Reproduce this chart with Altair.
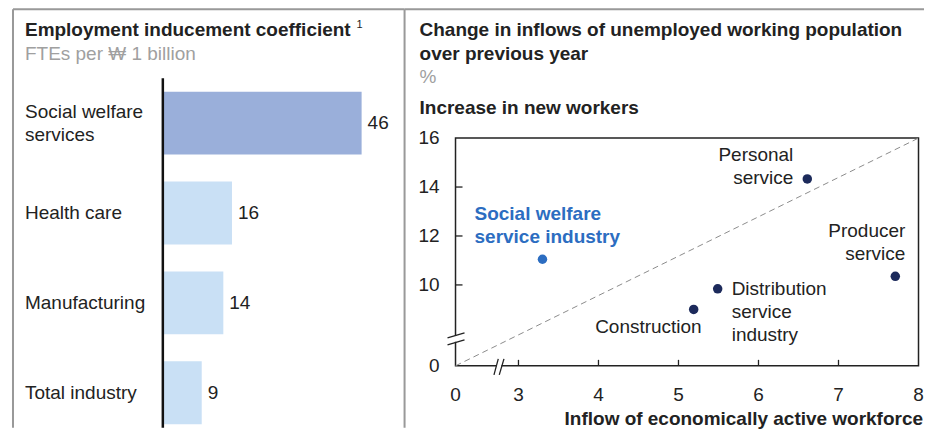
import altair as alt
import pandas as pd

# ---------------- data ----------------
bar_categories = ["Social welfare\nservices", "Health care", "Manufacturing", "Total industry"]
bar_values = [46, 16, 14, 9]
bar_group = ["hi", "lo", "lo", "lo"]

sc_names = ["Social welfare", "Personal", "Producer", "Distribution", "Construction"]
sc_labels = ["Social welfare\nservice industry", "Personal\nservice", "Producer\nservice",
             "Distribution\nservice\nindustry", "Construction"]
sc_x = [3.3, 6.61, 7.71, 5.49, 5.19]
sc_y = [11.05, 14.33, 10.35, 9.84, 9.0]
sc_group = ["sw", "other", "other", "other", "other"]

x_ticklabels = [0, 3, 4, 5, 6, 7, 8]
y_ticklabels = [0, 10, 12, 14, 16]
x_ticks = [3, 4, 5, 6, 7]
y_ticks = [10, 12, 14]
diag_x = [0, 8]
diag_y = [0, 16]
x_break = 2.75   # axis break positions (start of the un-broken scale segment)
y_break = 7.8

# ---------------- style ----------------
FONT = "Liberation Sans"
TXT = "#222222"
GREY = "#a0a0a0"
FRAME = "#999999"
FS = 19
LH = 23
H = 420
LW = 397
RW = 520

one = pd.DataFrame({"k": [0]})

# ---------------- left panel ----------------
bars_df = pd.DataFrame({"cat": bar_categories, "value": bar_values, "grp": bar_group})
ysc = alt.Scale(domain=bar_categories, range=[70, 430], paddingInner=0.3, paddingOuter=0.15)
xsc = alt.Scale(domain=[0, 46], range=[155, 354], nice=False, zero=False)
X = alt.X("value:Q", scale=xsc, axis=None)
Y = alt.Y("cat:N", scale=ysc, axis=None, sort=None)

bars = alt.Chart(bars_df).mark_bar().encode(
    x=X, y=Y,
    color=alt.Color("grp:N", scale=alt.Scale(domain=["hi", "lo"], range=["#9aafda", "#c9e0f5"]), legend=None),
)
bar_vals = alt.Chart(bars_df).mark_text(
    align="left", baseline="middle", dx=6, font=FONT, fontSize=FS, color=TXT
).encode(x=X, y=Y, text="value:Q")


def cat_layer(n):
    return alt.Chart(bars_df).transform_calculate(
        nl="length(split(datum.cat, '\\n'))"
    ).transform_filter(alt.datum.nl == n).mark_text(
        align="left", baseline="middle", lineBreak="\n", lineHeight=LH,
        dy=-(n - 1) * LH / 2, font=FONT, fontSize=FS, color=TXT
    ).encode(x=alt.value(17), y=Y, text="cat:N")


cat1 = cat_layer(1)
cat2 = cat_layer(2)
bar_axis = alt.Chart(one).mark_rule(color="#111111", strokeWidth=2.5).encode(
    x=alt.XDatum(0, scale=xsc, axis=None), y=alt.value(70), y2=alt.value(H)
)
l_title = alt.Chart(one).mark_text(
    text="Employment inducement coefficient", align="left", baseline="alphabetic",
    font=FONT, fontSize=FS, fontWeight="bold", color=TXT
).encode(x=alt.value(17), y=alt.value(28))
l_sup = alt.Chart(one).mark_text(
    text="1", align="left", baseline="alphabetic", font=FONT, fontSize=11, color=TXT
).encode(x=alt.value(349), y=alt.value(20))
l_sub = alt.Chart(one).mark_text(
    text="FTEs per \u20a9 1 billion", align="left", baseline="alphabetic",
    font=FONT, fontSize=FS, color=GREY
).encode(x=alt.value(17), y=alt.value(52))
l_top = alt.Chart(one).mark_rule(color=FRAME, strokeWidth=2).encode(
    x=alt.value(5), x2=alt.value(LW), y=alt.value(1))
l_left = alt.Chart(one).mark_rule(color=FRAME, strokeWidth=2).encode(
    x=alt.value(5), y=alt.value(1), y2=alt.value(H))

left = alt.layer(l_top, l_left, bars, bar_axis, bar_vals, cat1, cat2, l_title, l_sup, l_sub).properties(
    width=LW, height=H)

# ---------------- right panel ----------------
# broken axes: compressed segment below the break, linear above it
xs = alt.Scale(type="linear", domain=[0, x_break, 8], range=[51, 94, 514.5], nice=False, zero=False)
ys = alt.Scale(type="linear", domain=[0, y_break, 16], range=[358, 330.9, 130], nice=False, zero=False)


def XD(v):
    return alt.XDatum(v, scale=xs, axis=None)


def YD(v):
    return alt.YDatum(v, scale=ys, axis=None)


sc_df = pd.DataFrame({"name": sc_names, "label": sc_labels, "x": sc_x, "y": sc_y, "grp": sc_group})
SX = alt.X("x:Q", scale=xs, axis=None)
SY = alt.Y("y:Q", scale=ys, axis=None)

box = alt.Chart(one).mark_rect(fillOpacity=0, stroke="#222222", strokeWidth=1.5).encode(
    x=XD(0), x2=alt.datum(8), y=YD(0), y2=alt.datum(16))

diag_df = pd.DataFrame({"x": diag_x, "y": diag_y})
diag = alt.Chart(diag_df).mark_line(color="#8c8c8c", strokeWidth=1, strokeDash=[6, 4]).encode(
    x=SX, y=SY)

xt_df = pd.DataFrame({"t": x_ticks})
yt_df = pd.DataFrame({"t": y_ticks})
xticks = alt.Chart(xt_df).mark_rule(color="#222222", strokeWidth=1.3, y2Offset=-6).encode(
    x=alt.X("t:Q", scale=xs, axis=None), y=YD(0), y2=alt.datum(0))
yticks = alt.Chart(yt_df).mark_rule(color="#222222", strokeWidth=1.3, x2Offset=7).encode(
    y=alt.Y("t:Q", scale=ys, axis=None), x=XD(0), x2=alt.datum(0))

xl_df = pd.DataFrame({"t": x_ticklabels})
yl_df = pd.DataFrame({"t": y_ticklabels})
xlabels = alt.Chart(xl_df).mark_text(
    align="center", baseline="middle", dy=29, font=FONT, fontSize=FS, color=TXT
).encode(x=alt.X("t:Q", scale=xs, axis=None), y=YD(0), text="t:Q")
ylabels = alt.Chart(yl_df).mark_text(
    align="right", baseline="middle", dx=-16, font=FONT, fontSize=FS, color=TXT
).encode(y=alt.Y("t:Q", scale=ys, axis=None), x=XD(0), text="t:Q")

# axis break symbols
ybrk_white = alt.Chart(one).mark_rule(color="white", strokeWidth=5, yOffset=-3, y2Offset=3).encode(
    x=XD(0), y=YD(y_break), y2=alt.datum(y_break))
ybrk1 = alt.Chart(one).mark_rule(color="#222222", strokeWidth=1.3, xOffset=-8, x2Offset=9,
                                 yOffset=-1, y2Offset=-6).encode(
    x=XD(0), x2=alt.datum(0), y=YD(y_break), y2=alt.datum(y_break))
ybrk2 = alt.Chart(one).mark_rule(color="#222222", strokeWidth=1.3, xOffset=-8, x2Offset=9,
                                 yOffset=6, y2Offset=1).encode(
    x=XD(0), x2=alt.datum(0), y=YD(y_break), y2=alt.datum(y_break))
xbrk_white = alt.Chart(one).mark_rule(color="white", strokeWidth=5, xOffset=-2, x2Offset=3).encode(
    x=XD(x_break), x2=alt.datum(x_break), y=YD(0))
xbrk1 = alt.Chart(one).mark_rule(color="#222222", strokeWidth=1.3, xOffset=-4.5, x2Offset=-0.2,
                                 yOffset=9, y2Offset=-7).encode(
    x=XD(x_break), x2=alt.datum(x_break), y=YD(0), y2=alt.datum(0))
xbrk2 = alt.Chart(one).mark_rule(color="#222222", strokeWidth=1.3, xOffset=0.8, x2Offset=5.5,
                                 yOffset=9, y2Offset=-7).encode(
    x=XD(x_break), x2=alt.datum(x_break), y=YD(0), y2=alt.datum(0))

points = alt.Chart(sc_df).mark_circle(size=90, opacity=1).encode(
    x=SX, y=SY,
    color=alt.Color("grp:N", scale=alt.Scale(domain=["sw", "other"], range=["#2c6dc1", "#1c2a5b"]),
                    legend=None),
)


def plabel(name, **kw):
    props = dict(baseline="middle", lineBreak="\n", lineHeight=LH, font=FONT, fontSize=FS, color=TXT)
    props.update(kw)
    return alt.Chart(sc_df).transform_filter(alt.datum.name == name).mark_text(**props).encode(
        x=SX, y=SY, text="label:N")


lab_sw = plabel("Social welfare", align="left", dx=-68, dy=-45, fontWeight="bold", color="#2c6dc1")
lab_pe = plabel("Personal", align="right", dx=-14, dy=-24)
lab_pr = plabel("Producer", align="right", dx=10, dy=-45)
lab_di = plabel("Distribution", align="left", dx=14, dy=0)
lab_co = plabel("Construction", align="right", dx=8, dy=18)


def rtext(txt, x, y, **kw):
    props = dict(align="left", baseline="alphabetic", font=FONT, fontSize=FS, color=TXT)
    props.update(kw)
    return alt.Chart(one).mark_text(text=txt, **props).encode(x=alt.value(x), y=alt.value(y))


r_t1 = rtext("Change in inflows of unemployed working population", 15, 28, fontWeight="bold")
r_t2 = rtext("over previous year", 15, 52, fontWeight="bold")
r_t3 = rtext("%", 15, 75, color=GREY)
r_t4 = rtext("Increase in new workers", 15, 106, fontWeight="bold")
r_xt = rtext("Inflow of economically active workforce", 519, 417, align="right", fontWeight="bold")

r_top = alt.Chart(one).mark_rule(color=FRAME, strokeWidth=2).encode(
    x=alt.value(0), x2=alt.value(RW), y=alt.value(1))
r_left = alt.Chart(one).mark_rule(color=FRAME, strokeWidth=2).encode(
    x=alt.value(0), y=alt.value(1), y2=alt.value(H))

right = alt.layer(
    r_top, r_left, box, diag, xticks, yticks, xlabels, ylabels,
    ybrk_white, ybrk1, ybrk2, xbrk_white, xbrk1, xbrk2,
    points, lab_sw, lab_pe, lab_pr, lab_di, lab_co,
    r_t1, r_t2, r_t3, r_t4, r_xt,
).properties(width=RW, height=H)

chart = alt.hconcat(left, right, spacing=0, bounds="flush", padding=0).resolve_scale(
    color="independent").configure_view(stroke=None)

chart.save("out.html", embed_options={"renderer": "svg", "actions": False})
